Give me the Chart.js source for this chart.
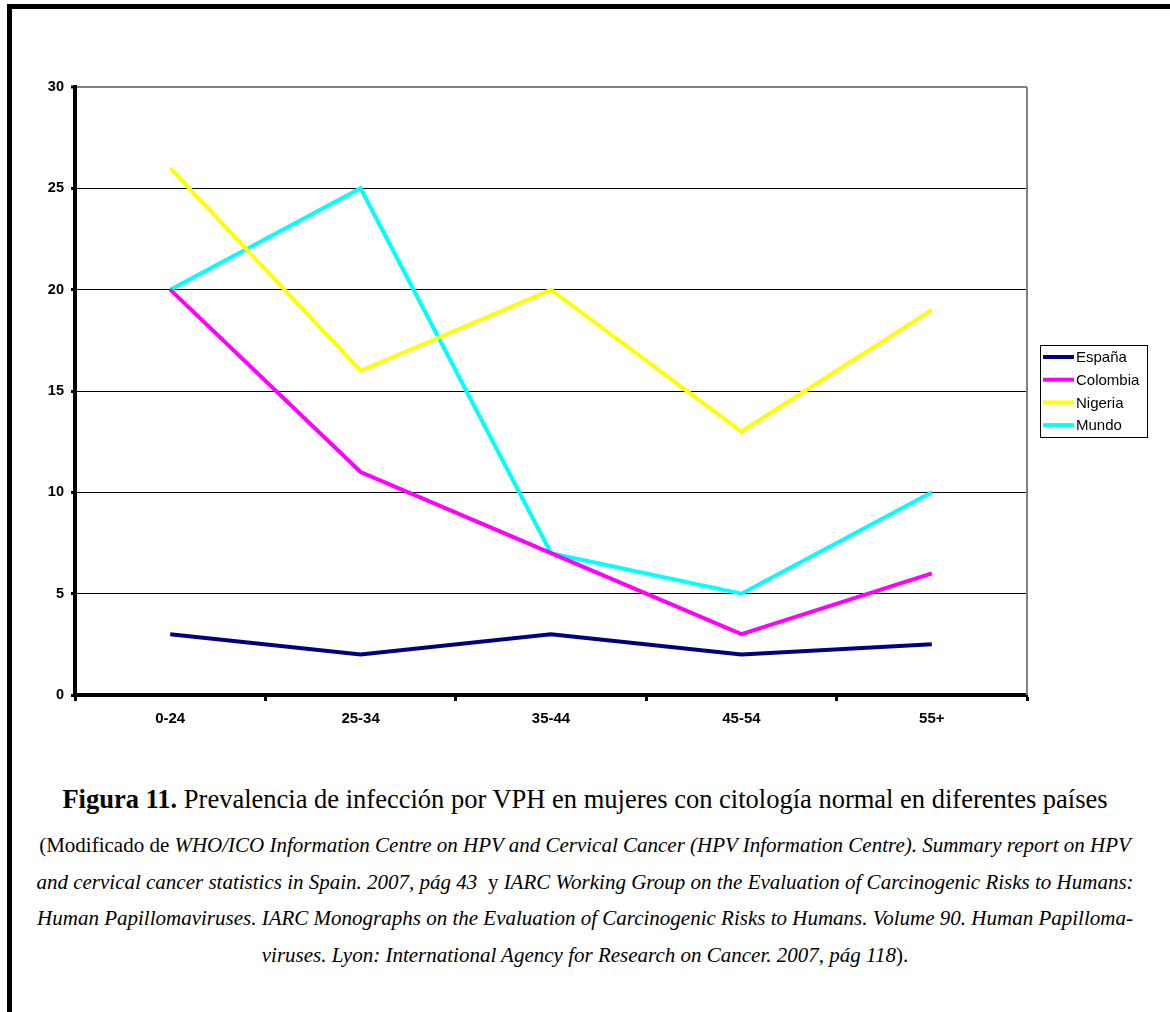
<!DOCTYPE html>
<html>
<head>
<meta charset="utf-8">
<script src="https://cdn.jsdelivr.net/npm/chart.js@4"></script>
<style>
  html, body { margin: 0; padding: 0; background: #fff; }
  body { width: 1170px; height: 1012px; position: relative; overflow: hidden; }
  #frame { position: absolute; left: 7px; top: 4px; width: 1200px; height: 1100px;
           border-left: 5px solid #000; border-top: 5px solid #000; }
  #wrap { position: absolute; left: 0; top: 0; width: 1170px; height: 760px; }
  .cap { position: absolute; left: 0; width: 1170px; text-align: center; white-space: nowrap;
         font-family: "Liberation Serif", "Times New Roman", serif; color: #000; }
  #title { top: 781px; font-size: 26.5px; line-height: 36px; }
  #source { top: 827px; font-size: 21px; line-height: 36.7px; }
</style>
</head>
<body>
<div id="frame"></div>
<div id="wrap"><canvas id="chart" width="1170" height="760"></canvas></div>
<div id="title" class="cap"><b>Figura 11.</b> Prevalencia de infección por VPH en mujeres con citología normal en diferentes países</div>
<div id="source" class="cap">(Modificado de <i>WHO/ICO Information Centre on HPV and Cervical Cancer (HPV Information Centre). Summary report on HPV</i><br><i>and cervical cancer statistics in Spain. 2007, pág 43</i>&nbsp; y <i>IARC Working Group on the Evaluation of Carcinogenic Risks to Humans:</i><br><i>Human Papillomaviruses. IARC Monographs on the Evaluation of Carcinogenic Risks to Humans. Volume 90. Human Papilloma-</i><br><i>viruses. Lyon: International Agency for Research on Cancer. 2007, pág 118</i>).</div>
<script>
// Age groups and prevalence (%)
var ageGroups = ['0-24', '25-34', '35-44', '45-54', '55+'];
var espana   = [3, 2, 3, 2, 2.5];
var colombia = [20, 11, 7, 3, 6];
var nigeria  = [26, 16, 20, 13, 19];
var mundo    = [20, 25, 7, 5, 10];
var yTicks   = [0, 5, 10, 15, 20, 25, 30];

// Gray border on the right of the plot area
var plotBorder = {
  id: 'plotBorder',
  afterDraw: function(chart) {
    var ctx = chart.ctx, a = chart.chartArea;
    ctx.save();
    ctx.strokeStyle = '#808080';
    ctx.lineWidth = 2;
    ctx.beginPath();
    ctx.moveTo(a.right, a.top);
    ctx.lineTo(a.right, a.bottom);
    ctx.stroke();
    ctx.restore();
  }
};

// Boxed legend at the right, like the original
var boxLegend = {
  id: 'boxLegend',
  afterDraw: function(chart) {
    var ctx = chart.ctx;
    var x = 1040, y = 345, w = 107, h = 92, rowH = 22.7;
    ctx.save();
    ctx.fillStyle = '#fff';
    ctx.fillRect(x, y, w, h);
    ctx.strokeStyle = '#000';
    ctx.lineWidth = 1;
    ctx.strokeRect(x + 0.5, y + 0.5, w, h);
    ctx.font = '15px "Liberation Sans", Arial, sans-serif';
    ctx.textBaseline = 'middle';
    chart.data.datasets.forEach(function(ds, i) {
      var cy = y + 12 + i * rowH;
      ctx.strokeStyle = ds.borderColor;
      ctx.lineWidth = 4;
      ctx.beginPath();
      ctx.moveTo(x + 3, cy);
      ctx.lineTo(x + 34, cy);
      ctx.stroke();
      ctx.fillStyle = '#000';
      ctx.fillText(ds.label, x + 36, cy + 1);
    });
    ctx.restore();
  }
};

function makeSet(label, data, color) {
  return {
    label: label,
    data: data,
    borderColor: color,
    backgroundColor: color,
    borderWidth: 4,
    pointRadius: 0,
    tension: 0,
    fill: false
  };
}

var xFont = { family: '"Liberation Sans", Arial, sans-serif', size: 15, weight: 'bold' };
var yFont = { family: '"Liberation Sans", Arial, sans-serif', size: 14.5, weight: 'bold' };

new Chart(document.getElementById('chart').getContext('2d'), {
  type: 'line',
  data: {
    labels: ageGroups,
    datasets: [
      makeSet('España', espana, '#000080'),
      makeSet('Colombia', colombia, '#FF00FF'),
      makeSet('Nigeria', nigeria, '#FFFF00'),
      makeSet('Mundo', mundo, '#00FFFF')
    ]
  },
  options: {
    responsive: false,
    animation: false,
    layout: { padding: { left: 20, top: 87, right: 143, bottom: 25 } },
    plugins: { legend: { display: false }, tooltip: { enabled: false } },
    scales: {
      x: {
        offset: true,
        grid: {
          offset: true,
          drawOnChartArea: false,
          tickLength: 6,
          tickWidth: 3,
          tickColor: '#000'
        },
        border: { display: true, color: '#000', width: 4 },
        ticks: { color: '#000', font: xFont, padding: 9, maxRotation: 0 },
        afterFit: function(s) { s.height = 40; }
      },
      y: {
        min: 0,
        max: 30,
        afterBuildTicks: function(s) {
          s.ticks = yTicks.map(function(v) { return { value: v }; });
        },
        grid: {
          color: function(c) { return c.tick && c.tick.value === 30 ? '#808080' : '#000'; },
          lineWidth: function(c) { return c.tick && c.tick.value === 30 ? 2 : 1; },
          tickLength: 4,
          tickWidth: 3,
          tickColor: '#000'
        },
        border: { display: true, color: '#000', width: 4 },
        ticks: { color: '#000', font: yFont, padding: 7 },
        afterFit: function(s) { s.width = 55; }
      }
    }
  },
  plugins: [plotBorder, boxLegend]
});
</script>
</body>
</html>
